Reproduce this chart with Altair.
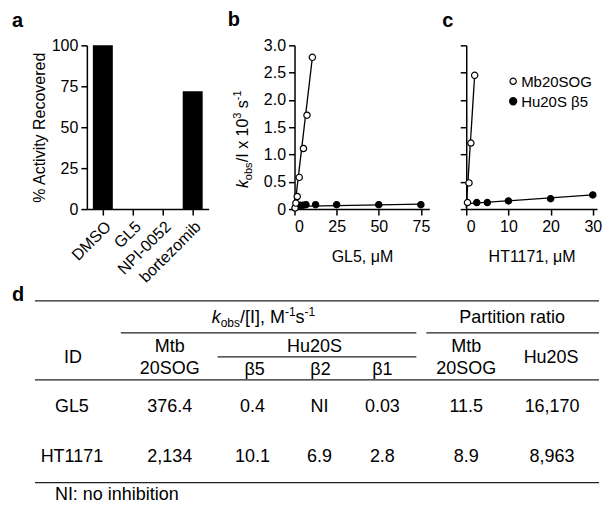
import altair as alt
import pandas as pd

FONT = "Liberation Sans"

# ---------------- data ----------------
# panel a
bar_labels = ["DMSO", "GL5", "NPI-0052", "bortezomib"]
bar_values = [100, 0, 0, 72]

# panel b (GL5)
b_open_x = [0.3, 0.8, 1.6, 2.8, 5.3, 7.4, 10.6]
b_open_y = [0.02, 0.11, 0.23, 0.58, 1.11, 1.72, 2.78]
b_fill_x = [3.0, 5.0, 6.8, 12.5, 25.0, 50.0, 75.0]
b_fill_y = [0.07, 0.07, 0.08, 0.08, 0.08, 0.08, 0.08]
b_open_fit_x = [0.0, 10.6]
b_open_fit_y = [0.0, 2.78]
b_fill_fit_x = [0.0, 75.0]
b_fill_fit_y = [0.05, 0.09]

# panel c (HT1171)
c_open_x = [0.3, 0.65, 1.1, 2.0]
c_open_y = [0.12, 0.48, 1.21, 2.45]
c_fill_x = [2.5, 5.0, 10.0, 20.0, 30.0]
c_fill_y = [0.12, 0.12, 0.15, 0.19, 0.26]
c_open_fit_x = [0.0, 2.0]
c_open_fit_y = [0.02, 2.45]
c_fill_fit_x = [0.3, 30.0]
c_fill_fit_y = [0.10, 0.26]

y_ticks = [0, 0.5, 1.0, 1.5, 2.0, 2.5, 3.0]

# panel d table
table_ids = ["GL5", "HT1171"]
col_mtb = ["376.4", "2,134"]
col_b5 = ["0.4", "10.1"]
col_b2 = ["NI", "6.9"]
col_b1 = ["0.03", "2.8"]
col_pr_mtb = ["11.5", "8.9"]
col_pr_hu = ["16,170", "8,963"]

# ---------------- helpers ----------------
AX = dict(domainColor="black", domainWidth=1.5, tickColor="black", tickWidth=1.5,
          tickSize=6, labelPadding=3, labelColor="black", labelFont=FONT,
          labelFontSize=16, titleFont=FONT, titleFontSize=16, titleColor="black",
          titleFontWeight="normal", grid=False)

ONE = alt.Data(values=[{}])


def label(text, x, y, size=18, angle=0, align="left", weight="normal",
          style="normal", baseline="alphabetic"):
    return alt.Chart(ONE).mark_text(
        text=text, font=FONT, fontSize=size, angle=angle, align=align,
        baseline=baseline, fontWeight=weight, fontStyle=style, color="black"
    ).encode(x=alt.value(x), y=alt.value(y))


def hline(x1, x2, y):
    return alt.Chart(ONE).mark_rule(color="#222222", strokeWidth=1.3).encode(
        x=alt.value(x1), x2=alt.value(x2), y=alt.value(y))


# ---------------- panel a ----------------
df_a = pd.DataFrame({"cat": bar_labels, "val": bar_values})
A = alt.Chart(df_a).mark_bar(color="black").encode(
    x=alt.X("cat:N", sort=bar_labels,
            scale=alt.Scale(range=[0, 122], paddingInner=1 / 3, paddingOuter=0.2),
            axis=alt.Axis(orient="bottom", labelAngle=-45, title=None, **AX)),
    y=alt.Y("val:Q", scale=alt.Scale(domain=[0, 100], nice=False),
            axis=alt.Axis(orient="left", values=[0, 25, 50, 75, 100],
                          title="% Activity Recovered", titlePadding=4, **AX)),
)

# ---------------- panel b ----------------
lab_expr = "datum.value == 0 ? '0' : format(datum.value, '.1f')"
bX = alt.X("x:Q", scale=alt.Scale(domain=[0, 80], range=[208, 343], nice=False, zero=False),
           axis=alt.Axis(orient="bottom", values=[0, 25, 50, 75], title="GL5, μM",
                         titlePadding=15, **AX))
bY = alt.Y("y:Q", scale=alt.Scale(domain=[0, 3], nice=False),
           axis=alt.Axis(orient="left", offset=-208, values=y_ticks, labelExpr=lab_expr,
                         title=None, **AX))

def pts(df, X, Y, filled):
    return alt.Chart(df).mark_point(
        shape="circle", filled=True, fill="black" if filled else "white",
        stroke="black", strokeWidth=1.2, size=40, opacity=1).encode(x=X, y=Y)

def fit(df, X, Y):
    return alt.Chart(df).mark_line(color="black", strokeWidth=1.3).encode(x=X, y=Y)

B = alt.layer(
    fit(pd.DataFrame({"x": b_open_fit_x, "y": b_open_fit_y}), bX, bY),
    fit(pd.DataFrame({"x": b_fill_fit_x, "y": b_fill_fit_y}), bX, bY),
    pts(pd.DataFrame({"x": b_fill_x, "y": b_fill_y}), bX, bY, True),
    pts(pd.DataFrame({"x": b_open_x, "y": b_open_y}), bX, bY, False),
)

# ---------------- panel c ----------------
cX = alt.X("x:Q", scale=alt.Scale(domain=[0, 31], range=[380, 511], nice=False, zero=False),
           axis=alt.Axis(orient="bottom", values=[0, 10, 20, 30], title="HT1171, μM",
                         titlePadding=15, **AX))
cY = alt.Y("y:Q", scale=alt.Scale(domain=[0, 3], nice=False),
           axis=alt.Axis(orient="left", offset=-380, values=y_ticks, labels=False,
                         title=None, **AX))
C = alt.layer(
    fit(pd.DataFrame({"x": c_open_fit_x, "y": c_open_fit_y}), cX, cY),
    fit(pd.DataFrame({"x": c_fill_fit_x, "y": c_fill_fit_y}), cX, cY),
    pts(pd.DataFrame({"x": c_fill_x, "y": c_fill_y}), cX, cY, True),
    pts(pd.DataFrame({"x": c_open_x, "y": c_open_y}), cX, cY, False),
)

legend = [
    alt.Chart(ONE).mark_point(shape="circle", filled=True, fill="white", stroke="black",
                              strokeWidth=1.2, size=40, opacity=1).encode(
        x=alt.value(427), y=alt.value(36)),
    alt.Chart(ONE).mark_point(shape="circle", filled=True, fill="black", stroke="black",
                              size=40, opacity=1).encode(
        x=alt.value(427), y=alt.value(56)),
    label("Mb20SOG", 435, 42, size=15),
    label("Hu20S β5", 435, 62, size=15),
]

# panel b y title pieces (rotated)
btitle = [
    label("k", 161, 143, size=16, angle=270, style="italic"),
    label("obs", 165, 135, size=11, angle=270),
    label("/I x 10", 161, 117, size=16, angle=270),
    label("3", 154, 73.5, size=11, angle=270),
    label("s", 161, 63, size=16, angle=270),
    label("-1", 154, 55, size=11, angle=270),
]

panel_labels = [
    label("a", -75, -18, size=20, weight="bold"),
    label("b", 141, -19, size=20, weight="bold"),
    label("c", 356, -18, size=20, weight="bold"),
    label("d", -75, 256, size=20, weight="bold"),
]

# ---------------- table d ----------------
rules = [
    hline(-52, 513, 256),
    hline(34, 330, 288),
    hline(340, 513, 288),
    hline(131, 330, 312),
    hline(-52, 513, 335),
    hline(-52, 513, 438),
]

header = [
    label("k", 125, 278, style="italic"),
    label("obs", 134, 282, size=12),
    label("/[I], M", 153.5, 278),
    label("-1", 198.5, 271, size=12),
    label("s", 209, 278),
    label("-1", 218, 271, size=12),
    label("Partition ratio", 426, 278, align="center"),
    label("ID", -14, 318, align="center"),
    label("Mtb", 83, 307, align="center"),
    label("20SOG", 83, 329, align="center"),
    label("Hu20S", 228, 307, align="center"),
    label("β5", 168, 330, align="center"),
    label("β2", 234, 330, align="center"),
    label("β1", 296, 330, align="center"),
    label("Mtb", 380, 307, align="center"),
    label("20SOG", 380, 329, align="center"),
    label("Hu20S", 465, 318, align="center"),
    label("NI: no inhibition", -32, 455),
]

df_t = pd.DataFrame({"row": table_ids, "id": table_ids, "mtb": col_mtb, "b5": col_b5,
                     "b2": col_b2, "b1": col_b1, "prm": col_pr_mtb, "prh": col_pr_hu})
rowY = alt.Y("row:N", scale=alt.Scale(domain=table_ids, range=[367, 417], padding=0),
             axis=None)
col_x = {"id": -15, "mtb": 83, "b5": 166, "b2": 233, "b1": 296, "prm": 380, "prh": 466}
body = alt.layer(*[
    alt.Chart(df_t).mark_text(font=FONT, fontSize=18, align="center",
                              baseline="alphabetic", color="black").encode(
        x=alt.value(px), y=rowY, text=f"{c}:N")
    for c, px in col_x.items()
])

chart = alt.layer(
    A, B, C, body, *legend, *btitle, *panel_labels, *rules, *header
).resolve_scale(x="independent", y="independent").resolve_axis(
    x="independent", y="independent"
).properties(
    width=513, height=164,
    padding={"left": 4, "top": 2, "right": 4, "bottom": 4},
    background="white",
).configure_view(stroke=None)

chart.save("out.html", embed_options={"renderer": "svg", "actions": False})
